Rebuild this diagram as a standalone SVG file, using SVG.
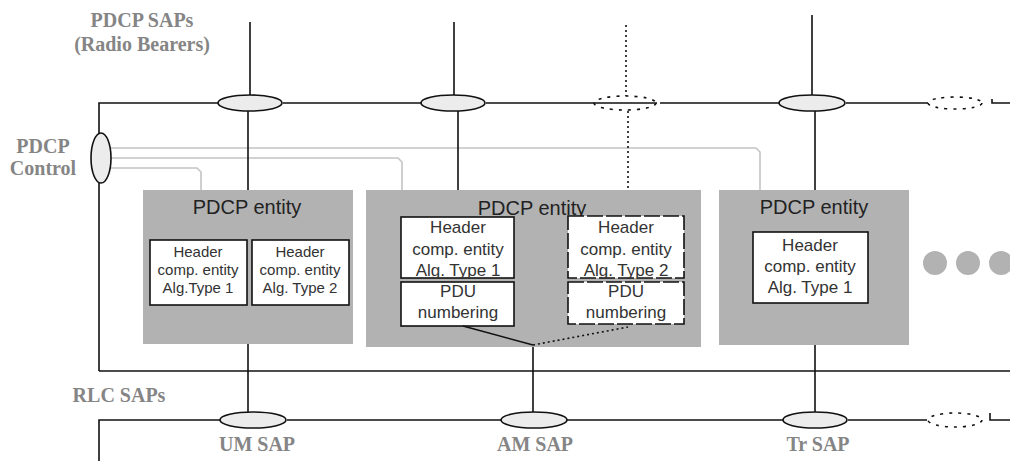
<svg xmlns="http://www.w3.org/2000/svg" width="1010" height="461" viewBox="0 0 1010 461">
<style>
.lbl{font-family:"Liberation Serif","Times New Roman",serif;font-weight:bold;font-size:20px;fill:#858585}
.ent{fill:#b2b2b2}
.title{font-family:"Liberation Sans",Arial,sans-serif;font-size:20px;fill:#222;text-anchor:middle}
.box{fill:#fff;stroke:#111;stroke-width:1.6}
.dbox{fill:#fff;stroke:#111;stroke-width:1.6;stroke-dasharray:16,3}
.t15{font-family:"Liberation Sans",Arial,sans-serif;font-size:15px;fill:#333;text-anchor:middle}
.t17{font-family:"Liberation Sans",Arial,sans-serif;font-size:17px;fill:#333;text-anchor:middle}
.ln{stroke:#111;stroke-width:1.6;fill:none}
.dot{stroke:#111;stroke-width:1.6;fill:none;stroke-dasharray:2,3}
.ctl{stroke:#c4c4c4;stroke-width:1.6;fill:none}
.sap{fill:#ececec;stroke:#111;stroke-width:1.6}
.dsap{fill:none;stroke:#111;stroke-width:1.6;stroke-dasharray:3,6}
</style>

<g id="labels">
<text class="lbl" x="142" y="27" text-anchor="middle">PDCP SAPs</text>
<text class="lbl" x="142" y="51" text-anchor="middle">(Radio Bearers)</text>
<text class="lbl" x="43" y="153" text-anchor="middle">PDCP</text>
<text class="lbl" x="43" y="175" text-anchor="middle">Control</text>
<text class="lbl" x="119" y="402" text-anchor="middle">RLC SAPs</text>
<text class="lbl" x="257" y="451" text-anchor="middle">UM SAP</text>
<text class="lbl" x="535" y="451" text-anchor="middle">AM SAP</text>
<text class="lbl" x="818" y="451" text-anchor="middle">Tr SAP</text>
</g>

<g id="connectors">
<!-- top frame -->
<path class="ln" d="M99,371 V103 H218 M283,103 H421 M486,103 H657 M660,103 H779 M846,103 H928"/>
<path class="ln" d="M992,99 V103 H1010"/>
<!-- bottom frame -->
<path class="ln" d="M99,371 H1010"/>
<path class="ln" d="M99,461 V420 H220 M287,420 H501 M567,420 H783 M848,420 H927"/>
<path class="ln" d="M990,413 V420 H1010"/>
<!-- PDCP control lines -->
<path class="ctl" d="M110,148 H756 L760,152 V190"/>
<path class="ctl" d="M111,158 H398 L402,162 V190"/>
<path class="ctl" d="M110,168 H197 L201,172 V190"/>
<!-- SAP verticals top -->
<path class="ln" d="M250,22 V96 M248,111 V190"/>
<path class="ln" d="M454,22 V96 M458,111 V191"/>
<path class="dot" d="M626,25 V96 M628,111 V194"/>
<path class="ln" d="M812,15 V97 M815,111 V190"/>
<!-- SAP verticals bottom -->
<path class="ln" d="M248,343 V412"/>
<path class="ln" d="M533,345 V412"/>
<path class="ln" d="M815,343 V412"/>
</g>

<g id="sap-top">
<ellipse class="sap" cx="250" cy="103" rx="32" ry="8"/>
<ellipse class="sap" cx="453" cy="103" rx="32" ry="8"/>
<ellipse class="dsap" cx="625" cy="103" rx="31" ry="7"/>
<ellipse class="sap" cx="812" cy="103" rx="33" ry="8"/>
<ellipse class="dsap" cx="955" cy="103" rx="27" ry="6"/>
</g>

<g id="pdcp-control">
<ellipse class="sap" cx="101" cy="158" rx="10" ry="25"/>
</g>

<g id="sap-bottom">
<ellipse class="sap" cx="253" cy="420" rx="33" ry="8"/>
<ellipse class="sap" cx="534" cy="420" rx="33" ry="8"/>
<ellipse class="sap" cx="815" cy="420" rx="32" ry="8"/>
<ellipse class="dsap" cx="955" cy="420" rx="27" ry="7"/>
</g>

<g id="entity1">
<rect class="ent" x="143" y="190" width="210" height="154"/>
<text class="title" x="247" y="214">PDCP entity</text>
<rect class="box" x="150" y="240" width="97" height="65"/>
<text class="t15" x="198" y="257">Header</text>
<text class="t15" x="198" y="275">comp. entity</text>
<text class="t15" x="198" y="293">Alg.Type 1</text>
<rect class="box" x="252" y="240" width="97" height="65"/>
<text class="t15" x="300" y="257">Header</text>
<text class="t15" x="300" y="275">comp. entity</text>
<text class="t15" x="300" y="293">Alg. Type 2</text>
</g>

<g id="entity2">
<rect class="ent" x="366" y="190" width="335" height="157"/>
<text class="title" x="532" y="215">PDCP entity</text>
<rect class="box" x="401" y="217" width="113" height="61"/>
<text class="t17" x="458" y="233">Header</text>
<text class="t17" x="458" y="255">comp. entity</text>
<text class="t17" x="458" y="276">Alg. Type 1</text>
<rect class="box" x="401" y="282" width="113" height="44"/>
<text class="t17" x="458" y="297">PDU</text>
<text class="t17" x="458" y="318">numbering</text>
<rect class="dbox" x="568" y="216" width="116" height="62"/>
<text class="t17" x="626" y="233">Header</text>
<text class="t17" x="626" y="255">comp. entity</text>
<text class="t17" x="626" y="276">Alg. Type 2</text>
<rect class="dbox" x="568" y="282" width="116" height="42"/>
<text class="t17" x="626" y="297">PDU</text>
<text class="t17" x="626" y="318">numbering</text>
<path class="ln" d="M463,326 L533,345"/>
<path class="dot" d="M533,345 L628,327"/>
</g>

<g id="entity3">
<rect class="ent" x="719" y="190" width="190" height="155"/>
<text class="title" x="814" y="214">PDCP entity</text>
<rect class="box" x="753" y="232" width="115" height="71"/>
<text class="t17" x="810" y="251">Header</text>
<text class="t17" x="810" y="272">comp. entity</text>
<text class="t17" x="810" y="293">Alg. Type 1</text>
</g>

<g id="more">
<circle cx="935" cy="263" r="12" fill="#b2b2b2"/>
<circle cx="968" cy="263" r="12" fill="#b2b2b2"/>
<circle cx="1001" cy="263" r="12" fill="#b2b2b2"/>
</g>
</svg>
